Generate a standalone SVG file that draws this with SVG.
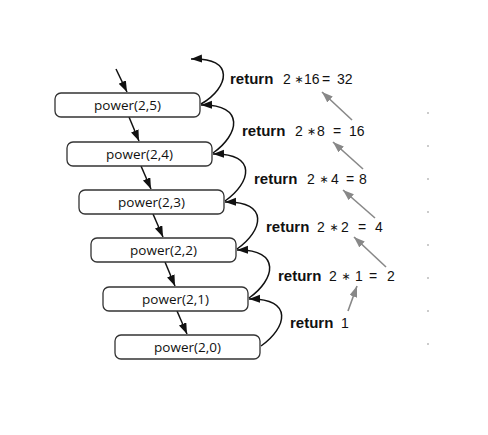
<svg xmlns="http://www.w3.org/2000/svg" width="488" height="435" viewBox="0 0 488 435">
<style>
.box rect{fill:#fff;stroke:#333;stroke-width:1.3}
.box text{font-family:"Open Sans","Noto Sans",sans-serif;font-size:13.5px;fill:#111;text-anchor:middle}
.blk{fill:none;stroke:#111;stroke-width:1.5}
.gry{fill:none;stroke:#888;stroke-width:1.6}
.lbl{font-family:"Liberation Sans","DejaVu Sans",sans-serif;font-size:14px;fill:#111}
.lbl .kw{font-weight:bold;font-size:15px}
.lbl .op{font-family:"DejaVu Sans",sans-serif;font-size:11px}
.dot{fill:#ccc}
</style>
<defs>
<marker id="ah" markerUnits="userSpaceOnUse" markerWidth="12" markerHeight="9" refX="11" refY="4" orient="auto"><path d="M0,0 L11,4 L0,8 z" fill="#111"/></marker>
<marker id="ahg" markerUnits="userSpaceOnUse" markerWidth="12" markerHeight="9" refX="11" refY="4" orient="auto"><path d="M0,0 L11,4 L0,8 z" fill="#888"/></marker>
</defs>
<rect width="488" height="435" fill="#fff"/>
<g id="connectors">
<line class="blk" x1="116" y1="69" x2="127" y2="92" marker-end="url(#ah)"/>
<line class="blk" x1="129" y1="117" x2="139" y2="141" marker-end="url(#ah)"/>
<line class="blk" x1="141" y1="166" x2="151" y2="189" marker-end="url(#ah)"/>
<line class="blk" x1="153" y1="214" x2="163" y2="237" marker-end="url(#ah)"/>
<line class="blk" x1="165" y1="262" x2="175" y2="286" marker-end="url(#ah)"/>
<line class="blk" x1="177" y1="311" x2="187" y2="334" marker-end="url(#ah)"/>
<path class="blk" d="M201,104 C229,88 236,57 191,59" marker-end="url(#ah)"/>
<path class="blk" d="M213,153 C239,135 246,104 201,105" marker-end="url(#ah)"/>
<path class="blk" d="M225,201 C251,183 258,153 213,154" marker-end="url(#ah)"/>
<path class="blk" d="M237,249 C263,231 270,201 225,202" marker-end="url(#ah)"/>
<path class="blk" d="M249,298 C275,280 282,249 237,250" marker-end="url(#ah)"/>
<path class="blk" d="M261,346 C287,328 294,298 249,299" marker-end="url(#ah)"/>
<line class="gry" x1="352" y1="120" x2="322" y2="92" marker-end="url(#ahg)"/>
<line class="gry" x1="363" y1="169" x2="333" y2="142" marker-end="url(#ahg)"/>
<line class="gry" x1="375" y1="218" x2="343" y2="190" marker-end="url(#ahg)"/>
<line class="gry" x1="386" y1="267" x2="354" y2="237" marker-end="url(#ahg)"/>
<line class="gry" x1="348" y1="311" x2="357" y2="286" marker-end="url(#ahg)"/>
</g>
<g id="n1" class="box"><rect x="55" y="93" width="145" height="24" rx="6"/><text x="127.5" y="110">power(2,5)</text></g>
<g id="n2" class="box"><rect x="67" y="142" width="145" height="24" rx="6"/><text x="139.5" y="159">power(2,4)</text></g>
<g id="n3" class="box"><rect x="79" y="190" width="145" height="24" rx="6"/><text x="151.5" y="207">power(2,3)</text></g>
<g id="n4" class="box"><rect x="91" y="238" width="145" height="24" rx="6"/><text x="163.5" y="255">power(2,2)</text></g>
<g id="n5" class="box"><rect x="103" y="287" width="145" height="24" rx="6"/><text x="175.5" y="304">power(2,1)</text></g>
<g id="n6" class="box"><rect x="115" y="335" width="145" height="24" rx="6"/><text x="187.5" y="352">power(2,0)</text></g>
<g id="labels">
<text class="lbl" y="84"><tspan class="kw" x="230">return</tspan><tspan x="283">2</tspan><tspan class="op" x="294.5" dy="-1">∗</tspan><tspan x="304" dy="1">16</tspan><tspan x="322">=</tspan><tspan x="337">32</tspan></text>
<text class="lbl" y="136"><tspan class="kw" x="242">return</tspan><tspan x="295">2</tspan><tspan class="op" x="307" dy="-1">∗</tspan><tspan x="317" dy="1">8</tspan><tspan x="333">=</tspan><tspan x="349">16</tspan></text>
<text class="lbl" y="184"><tspan class="kw" x="254">return</tspan><tspan x="307">2</tspan><tspan class="op" x="319.5" dy="-1">∗</tspan><tspan x="331" dy="1">4</tspan><tspan x="346">=</tspan><tspan x="359">8</tspan></text>
<text class="lbl" y="232"><tspan class="kw" x="266">return</tspan><tspan x="317">2</tspan><tspan class="op" x="329.5" dy="-1">∗</tspan><tspan x="341" dy="1">2</tspan><tspan x="358">=</tspan><tspan x="375">4</tspan></text>
<text class="lbl" y="281"><tspan class="kw" x="278">return</tspan><tspan x="329">2</tspan><tspan class="op" x="341.5" dy="-1">∗</tspan><tspan x="355" dy="1">1</tspan><tspan x="369">=</tspan><tspan x="387">2</tspan></text>
<text class="lbl" y="328"><tspan class="kw" x="290">return</tspan><tspan x="341">1</tspan></text>
</g>
<g id="dots">
<rect class="dot" x="427" y="112" width="2" height="2"/>
<rect class="dot" x="427" y="145" width="2" height="2"/>
<rect class="dot" x="427" y="178" width="2" height="2"/>
<rect class="dot" x="427" y="211" width="2" height="2"/>
<rect class="dot" x="427" y="244" width="2" height="2"/>
<rect class="dot" x="427" y="277" width="2" height="2"/>
<rect class="dot" x="427" y="310" width="2" height="2"/>
<rect class="dot" x="427" y="343" width="2" height="2"/>
</g>
</svg>
